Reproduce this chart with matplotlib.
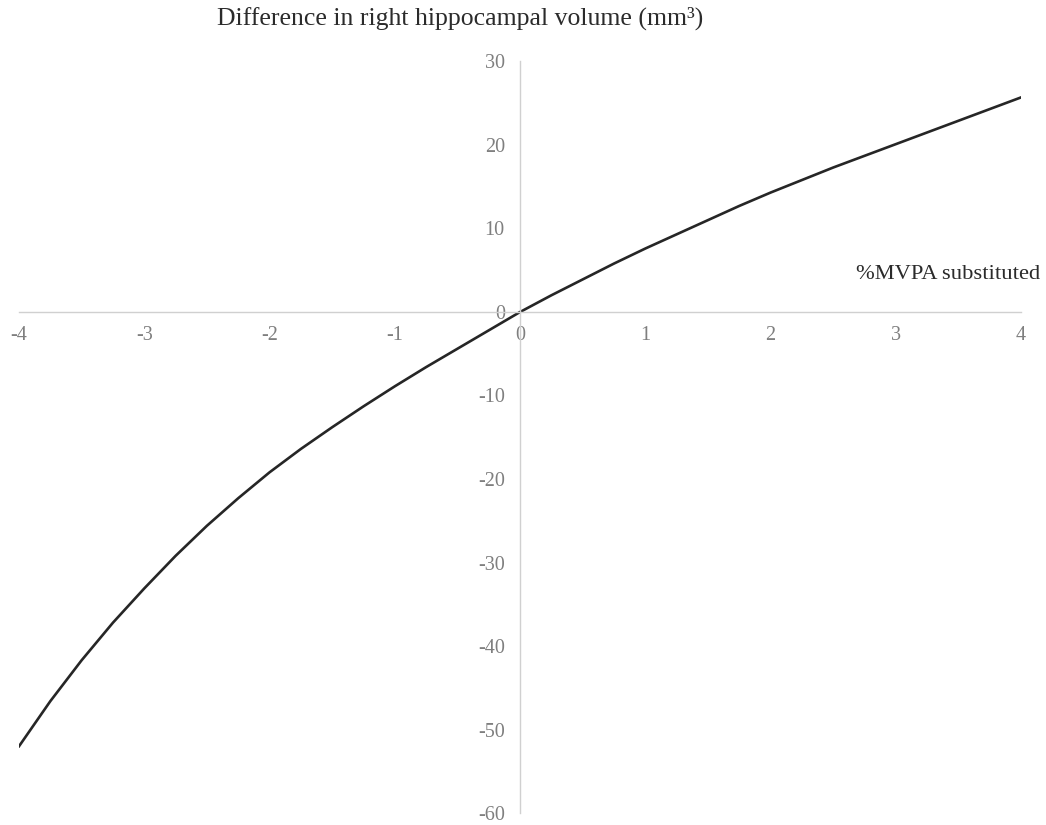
import matplotlib.pyplot as plt

# %MVPA substituted vs. difference in right hippocampal volume (mm3)
mvpa = [-4.0, -3.75, -3.5, -3.25, -3.0, -2.75, -2.5, -2.25, -2.0,
        -1.75, -1.5, -1.25, -1.0, -0.75, -0.5, -0.25, 0.0,
        0.25, 0.5, 0.75, 1.0, 1.25, 1.5, 1.75, 2.0,
        2.25, 2.5, 2.75, 3.0, 3.25, 3.5, 3.75, 4.0]
volume = [-52.0, -46.6, -41.7, -37.2, -33.1, -29.2, -25.6, -22.3, -19.2,
          -16.4, -13.8, -11.3, -8.9, -6.6, -4.4, -2.2, 0.0,
          2.0, 3.9, 5.8, 7.6, 9.3, 11.0, 12.7, 14.3,
          15.8, 17.3, 18.7, 20.1, 21.5, 22.9, 24.3, 25.7]

x_ticks = [-4, -3, -2, -1, 0, 1, 2, 3, 4]
y_ticks = [-60, -50, -40, -30, -20, -10, 0, 10, 20, 30]

plt.rcParams['font.family'] = ['Liberation Serif', 'DejaVu Serif']
plt.rcParams['axes.unicode_minus'] = False

fig = plt.figure(figsize=(10.46, 8.25), dpi=100)
ax = fig.add_axes([0.0182, 0.0145, 0.958, 0.911])

ax.plot(mvpa, volume, color='#262626', linewidth=1.9, solid_joinstyle='round')

ax.set_xlim(-4, 4)
ax.set_ylim(-60, 30)
ax.set_xticks(x_ticks)
ax.set_yticks(y_ticks)

for s in ['top', 'right']:
    ax.spines[s].set_visible(False)
ax.spines['left'].set_position(('data', 0))
ax.spines['bottom'].set_position(('data', 0))
for s in ['left', 'bottom']:
    ax.spines[s].set_color('#d0d0d0')
    ax.spines[s].set_linewidth(1.0)

ax.tick_params(axis='both', length=0, labelsize=14.5, labelcolor='#7f7f7f')
ax.tick_params(axis='y', pad=11)
ax.tick_params(axis='x', pad=10)

fig.text(0.44, 0.978, 'Difference in right hippocampal volume (mm³)',
         ha='center', va='center', fontsize=18.5, color='#2b2b2b')
fig.text(0.994, 0.667, '%MVPA substituted', ha='right', va='center',
         fontsize=16.2, color='#2b2b2b')

fig.savefig('out.png', dpi=100)
